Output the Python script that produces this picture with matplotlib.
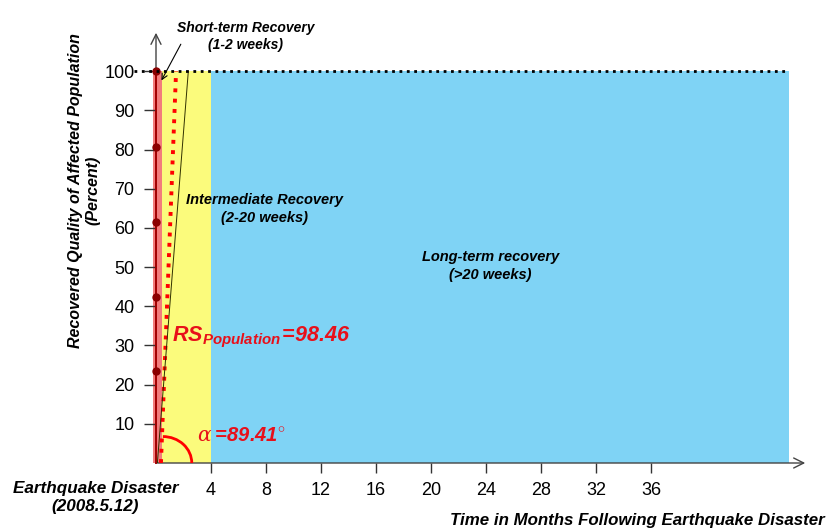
import numpy as np
import matplotlib.pyplot as plt
from matplotlib.patches import Arc

plt.rcParams['font.family'] = ['Liberation Sans', 'DejaVu Sans']
plt.rcParams['mathtext.fontset'] = 'custom'
plt.rcParams['mathtext.bf'] = 'Liberation Sans:italic:bold'
plt.rcParams['mathtext.rm'] = 'Liberation Sans:italic:bold'
plt.rcParams['mathtext.it'] = 'DejaVu Serif:italic'

# recovery phases (months)
phase_edges = [-0.25, 0.45, 4.0, 46.0]
phase_colors = ['#f27c7c', '#fbfb7c', '#7fd3f5']

# observed recovery points (percent)
obs_y = [23.5, 42.3, 61.5, 80.6, 100]
obs_x = [0, 0, 0, 0, 0]

# fitted lines
fit_x = [0.36, 1.46]
fit_y = [0, 100]
ref_x = [0.1, 2.35]
ref_y = [0, 100]

xticks = [4, 8, 12, 16, 20, 24, 28, 32, 36]
yticks = [10, 20, 30, 40, 50, 60, 70, 80, 90, 100]

fig = plt.figure(figsize=(8.3, 5.32), dpi=100)
W, H = 830, 532
x0, x1, yb, yt = 156, 808, 463, 30
ax = fig.add_axes([x0 / W, 1 - yb / H, (x1 - x0) / W, (yb - yt) / H])
ax.set_xlim(0, 47.4)
ax.set_ylim(0, 110.5)

for i in range(3):
    ax.fill_between([phase_edges[i], phase_edges[i + 1]], 0, 100,
                    color=phase_colors[i], lw=0, clip_on=False, zorder=1)

ax.plot([0, 0], [0, 100], color='#a00000', lw=1.4, zorder=3, clip_on=False)
ax.plot(obs_x, obs_y, 'o', color='#8b0000', ms=5, zorder=3, clip_on=False)
ax.plot(fit_x, fit_y, ':', color='red', lw=2.8, zorder=4)
ax.plot(ref_x, ref_y, '-', color='#303000', lw=0.7, zorder=4)
ax.plot([-1.6, 46.0], [100, 100], ':', color='black', lw=2, zorder=5, clip_on=False)

ax.add_patch(Arc((0.5, 0), 4.2, 13.5, theta1=0, theta2=90, color='red', lw=2, zorder=5))

for s in ['top', 'right', 'left', 'bottom']:
    ax.spines[s].set_visible(False)
ax.annotate('', xy=(47.4, 0), xytext=(-0.1, 0), xycoords='data',
            arrowprops=dict(arrowstyle='->', color='#444444', lw=1, mutation_scale=18),
            annotation_clip=False)
ax.annotate('', xy=(0, 110.5), xytext=(0, -0.2), xycoords='data',
            arrowprops=dict(arrowstyle='->', color='#444444', lw=1, mutation_scale=18),
            annotation_clip=False, zorder=0)

ax.set_xticks(xticks)
ax.set_yticks(yticks)
ax.tick_params(axis='x', length=7.5, width=1, color='#333333', labelsize=13, pad=6)
ax.tick_params(axis='y', length=8.5, width=1, color='#333333', labelsize=13, pad=7)

ax.text(6.5, 108.8, 'Short-term Recovery\n(1-2 weeks)', ha='center', va='center',
        fontsize=10, fontstyle='italic', fontweight='bold', linespacing=1.3, clip_on=False)
ax.annotate('', xy=(0.3, 97), xytext=(1.9, 107.5),
            arrowprops=dict(arrowstyle='->', color='black', lw=0.8), annotation_clip=False)
ax.text(7.9, 64.8, 'Intermediate Recovery\n(2-20 weeks)', ha='center', va='center',
        fontsize=10.5, fontstyle='italic', fontweight='bold', linespacing=1.3)
ax.text(24.3, 50.3, 'Long-term recovery\n(>20 weeks)', ha='center', va='center',
        fontsize=10.5, fontstyle='italic', fontweight='bold', linespacing=1.3)
ax.text(1.15, 32.0, r'$\mathbf{RS_{Population}\!=\!98.46}$', color='#e8101a',
        fontsize=15.5, ha='left', va='center')
ax.text(3.0, 7.0, r'$\alpha\mathbf{=\!89.41}^{\circ}$', color='#e8101a', fontsize=14.5,
        ha='left', va='center')

ax.text(-5.2, 69.6, 'Recovered Quality of Affected Population\n(Percent)', rotation=90,
        ha='center', va='center', fontsize=11.5, fontstyle='italic', fontweight='bold',
        linespacing=1.2, clip_on=False)
ax.text(-4.4, -8.7, 'Earthquake Disaster\n(2008.5.12)', ha='center', va='center',
        fontsize=12.3, fontstyle='italic', fontweight='bold', linespacing=1.25, clip_on=False)
ax.text(35.0, -14.8, 'Time in Months Following Earthquake Disaster', ha='center', va='center',
        fontsize=12.2, fontstyle='italic', fontweight='bold', clip_on=False)

fig.savefig('out.png', dpi=100)
